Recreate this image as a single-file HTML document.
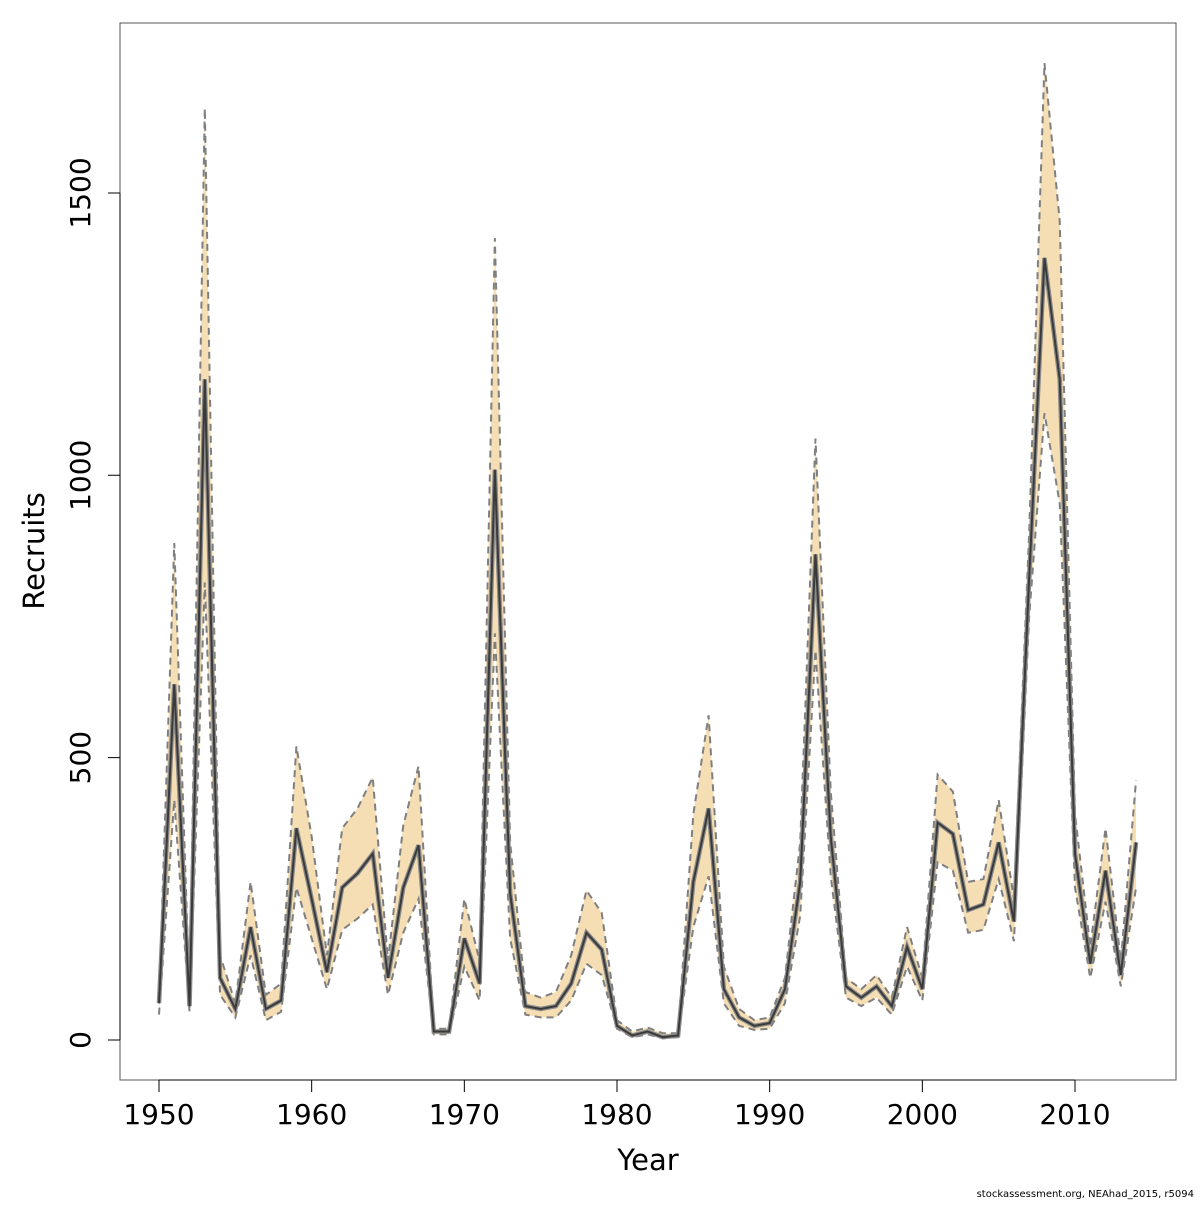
<!DOCTYPE html>
<html><head><meta charset="utf-8"><style>
body{margin:0;background:#fff}
svg text{font-family:"DejaVu Sans","Liberation Sans",sans-serif;fill:#000}
</style></head><body>
<svg id="chart" width="1200" height="1200" viewBox="0 0 1200 1200" xmlns="http://www.w3.org/2000/svg">
<rect x="120" y="23" width="1056" height="1057" fill="none" stroke="#555" stroke-width="1"/>
<g id="band"></g>
<g id="axes"></g>
<text x="648" y="1170" font-size="29" text-anchor="middle">Year</text>
<text transform="translate(44,551) rotate(-90)" font-size="29" text-anchor="middle">Recruits</text>
<text x="1194" y="1197" font-size="10" text-anchor="end">stockassessment.org, NEAhad_2015, r5094</text>
</svg>
<script>
const years=[];for(let y=1950;y<=2014;y++)years.push(y);
const recruits=[65,630,60,1170,110,55,200,55,70,375,250,120,270,295,330,110,270,345,15,15,180,100,1010,260,60,55,60,100,190,160,25,8,15,5,8,280,410,90,40,25,30,90,280,860,360,95,75,95,60,165,90,385,365,230,240,350,210,820,1385,1170,330,135,300,115,350];
const upper=[70,880,80,1650,150,65,280,80,100,520,360,150,375,410,465,140,380,485,20,20,250,140,1420,350,85,75,85,150,265,225,35,15,22,12,12,400,575,130,55,35,40,110,350,1065,440,110,90,115,75,200,110,470,440,280,285,425,250,900,1730,1450,400,165,375,140,460];
const lower=[45,425,50,810,80,40,150,35,50,270,180,90,195,215,240,80,190,250,10,10,130,70,720,180,45,40,40,70,135,115,20,5,10,3,5,200,290,65,25,18,20,65,220,690,290,75,60,75,45,130,70,315,300,190,195,285,175,750,1110,950,270,110,245,95,270];
const xTicks=[1950,1960,1970,1980,1990,2000,2010];
const yTicks=[0,500,1000,1500];
const xs=y=>159+(y-1950)*(916/60);
const ys=v=>1040-v*0.5647;
const NS="http://www.w3.org/2000/svg";
const band=document.getElementById('band'),axes=document.getElementById('axes');
let pts=years.map((y,i)=>xs(y)+','+ys(upper[i]));
for(let i=years.length-1;i>=0;i--)pts.push(xs(years[i])+','+ys(lower[i]));
const poly=document.createElementNS(NS,'polygon');


poly.setAttribute('points',pts.join(' '));poly.setAttribute('fill','#F5DEB3');
band.appendChild(poly);
function line(arr,name,color,w,dash){
 const p=document.createElementNS(NS,'polyline');
 
 
 p.setAttribute('points',years.map((y,i)=>xs(y)+','+ys(arr[i])).join(' '));
 p.setAttribute('fill','none');p.setAttribute('stroke',color);p.setAttribute('stroke-width',w);
 if(dash)p.setAttribute('stroke-dasharray',dash);
 band.appendChild(p);}
line(upper,'upper-bound-line','#7f7f7f',2,'7,5');
line(lower,'lower-bound-line','#7f7f7f',2,'7,5');
line(recruits,'recruits-line-halo','#8a8a8a',4.5);
line(recruits,'recruits-line','#3a3a3a',2);
const ax=document.createElementNS(NS,'path');


let d='M'+xs(1950)+',1080H'+xs(2010)+'M120,'+ys(0)+'V'+ys(1500);
xTicks.forEach(t=>d+='M'+xs(t)+',1080v12');
yTicks.forEach(t=>d+='M120,'+ys(t)+'h-12');
ax.setAttribute('d',d);ax.setAttribute('stroke','#000');ax.setAttribute('fill','none');
axes.appendChild(ax);
xTicks.forEach(t=>{const e=document.createElementNS(NS,'text');
 
 
 e.setAttribute('x',xs(t));e.setAttribute('y',1124);e.setAttribute('font-size','28');e.setAttribute('text-anchor','middle');e.textContent=t;axes.appendChild(e);});
yTicks.forEach(t=>{const e=document.createElementNS(NS,'text');
 
 
 e.setAttribute('transform','translate(90,'+ys(t)+') rotate(-90)');e.setAttribute('font-size','28');e.setAttribute('text-anchor','middle');e.textContent=t;axes.appendChild(e);});
</script>
</body></html>
